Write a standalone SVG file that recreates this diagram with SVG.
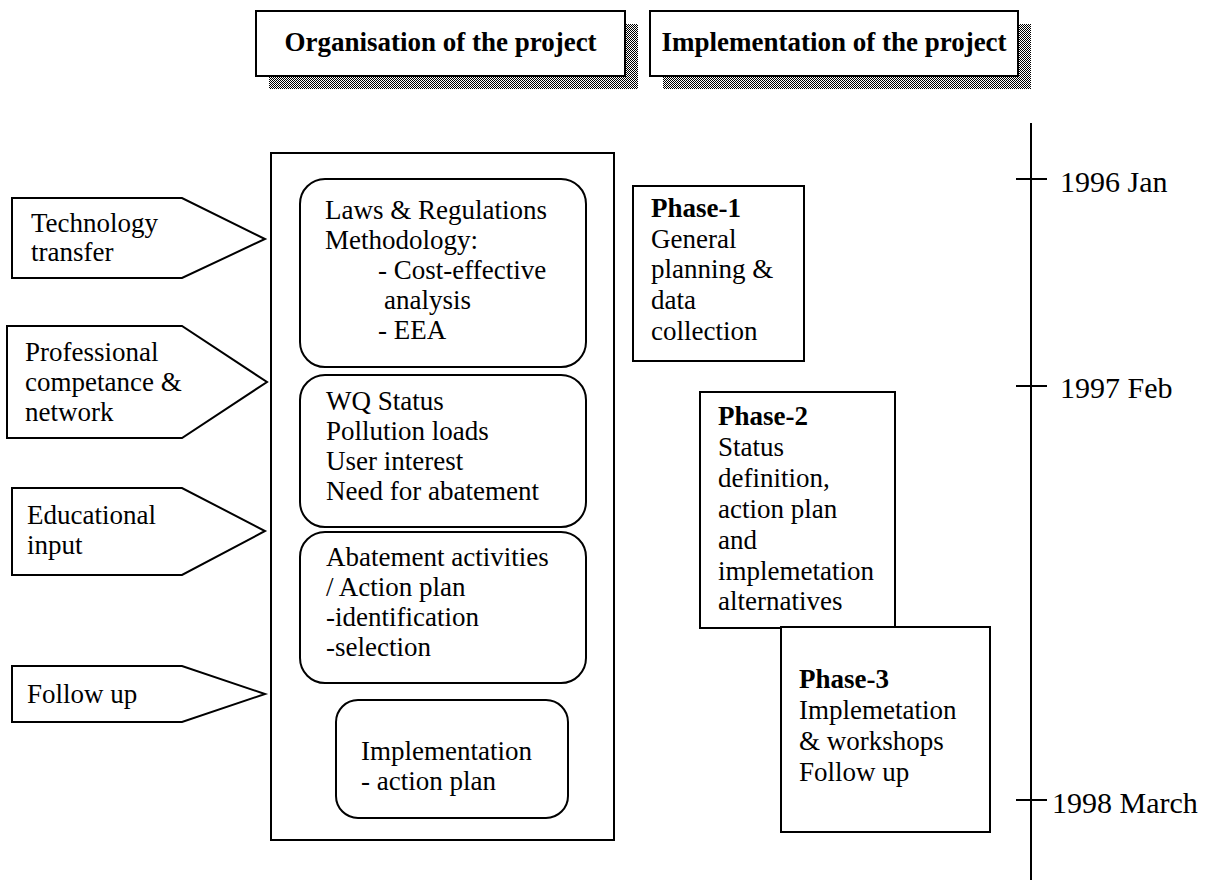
<svg xmlns="http://www.w3.org/2000/svg" width="1210" height="891" viewBox="0 0 1210 891">
  <defs>
    <pattern id="stipple" patternUnits="userSpaceOnUse" width="2" height="2">
      <rect x="0" y="0" width="1" height="1" fill="#000"/>
      <rect x="1" y="1" width="1" height="1" fill="#000"/>
    </pattern>
    <style>
      .t { font-family: "Liberation Serif", "Times New Roman", serif; font-size: 27px; fill: #000; }
      .b { font-weight: bold; }
      .hd { font-family: "Liberation Serif", "Times New Roman", serif; font-size: 27px; font-weight: bold; fill: #000; }
      .tl { font-family: "Liberation Serif", "Times New Roman", serif; font-size: 30px; fill: #000; }
      .box { fill: #fff; stroke: #000; stroke-width: 2; }
      .shadow { fill: url(#stipple); stroke: none; shape-rendering: crispEdges; }
      .line { stroke: #000; stroke-width: 2; fill: none; }
    </style>
  </defs>
  <rect x="0" y="0" width="1210" height="891" fill="#fff"/>

  <g id="header-organisation">
    <rect class="shadow" x="269" y="24" width="369" height="65"/>
    <rect class="box" x="256" y="11" width="369" height="65"/>
    <text class="hd" x="440.5" y="51" text-anchor="middle">Organisation of the project</text>
  </g>
  <g id="header-implementation">
    <rect class="shadow" x="663" y="24" width="368" height="65"/>
    <rect class="box" x="650" y="11" width="368" height="65"/>
    <text class="hd" x="834" y="51" text-anchor="middle">Implementation of the project</text>
  </g>

  <g id="input-technology">
    <polygon class="box" points="12,198 182,198 265,239 182,278 12,278"/>
    <text class="t" x="31" y="232">Technology</text>
    <text class="t" x="31" y="261">transfer</text>
  </g>
  <g id="input-professional">
    <polygon class="box" points="7,326 182,326 267,382 182,438 7,438"/>
    <text class="t" x="25" y="361">Professional</text>
    <text class="t" x="25" y="391">competance &amp;</text>
    <text class="t" x="25" y="421">network</text>
  </g>
  <g id="input-educational">
    <polygon class="box" points="12,488 182,488 265,531 182,575 12,575"/>
    <text class="t" x="27" y="524">Educational</text>
    <text class="t" x="27" y="554">input</text>
  </g>
  <g id="input-followup">
    <polygon class="box" points="12,666 182,666 265,694 182,722 12,722"/>
    <text class="t" x="27" y="703">Follow up</text>
  </g>

  <g id="organisation-frame">
    <rect class="box" x="271" y="153" width="343" height="687"/>
  </g>
  <g id="laws-methodology">
    <rect class="box" x="300" y="179" width="286" height="188" rx="25" ry="25"/>
    <text class="t" x="325" y="219">Laws &amp; Regulations</text>
    <text class="t" x="325" y="249">Methodology:</text>
    <text class="t" x="378" y="279">- Cost-effective</text>
    <text class="t" x="384" y="309">analysis</text>
    <text class="t" x="378" y="339">- EEA</text>
  </g>
  <g id="wq-status">
    <rect class="box" x="300" y="375" width="286" height="152" rx="25" ry="25"/>
    <text class="t" x="326" y="410">WQ Status</text>
    <text class="t" x="326" y="440">Pollution loads</text>
    <text class="t" x="326" y="470">User interest</text>
    <text class="t" x="326" y="500">Need for abatement</text>
  </g>
  <g id="abatement">
    <rect class="box" x="300" y="532" width="286" height="151" rx="25" ry="25"/>
    <text class="t" x="326" y="566">Abatement activities</text>
    <text class="t" x="326" y="596">/ Action plan</text>
    <text class="t" x="326" y="626">-identification</text>
    <text class="t" x="326" y="656">-selection</text>
  </g>
  <g id="implementation">
    <rect class="box" x="336" y="700" width="232" height="118" rx="22" ry="22"/>
    <text class="t" x="361" y="760">Implementation</text>
    <text class="t" x="361" y="790">- action plan</text>
  </g>

  <g id="phase-1">
    <rect class="box" x="633" y="186" width="171" height="175"/>
    <text class="t b" x="651" y="217">Phase-1</text>
    <text class="t" x="651" y="248">General</text>
    <text class="t" x="651" y="278">planning &amp;</text>
    <text class="t" x="651" y="309">data</text>
    <text class="t" x="651" y="340">collection</text>
  </g>
  <g id="phase-2">
    <rect class="box" x="700" y="392" width="195" height="236"/>
    <text class="t b" x="718" y="425">Phase-2</text>
    <text class="t" x="718" y="456">Status</text>
    <text class="t" x="718" y="487">definition,</text>
    <text class="t" x="718" y="518">action plan</text>
    <text class="t" x="718" y="549">and</text>
    <text class="t" x="718" y="580">implemetation</text>
    <text class="t" x="718" y="610">alternatives</text>
  </g>
  <g id="phase-3">
    <rect class="box" x="781" y="627" width="209" height="205"/>
    <text class="t b" x="799" y="688">Phase-3</text>
    <text class="t" x="799" y="719">Implemetation</text>
    <text class="t" x="799" y="750">&amp; workshops</text>
    <text class="t" x="799" y="781">Follow up</text>
  </g>

  <g id="connectors">
    <line class="line" x1="1031" y1="123" x2="1031" y2="880"/>
    <line class="line" x1="1016" y1="179" x2="1047" y2="179"/>
    <line class="line" x1="1016" y1="386" x2="1047" y2="386"/>
    <line class="line" x1="1016" y1="800" x2="1047" y2="800"/>
  </g>
  <g id="timeline-labels">
    <text class="tl" x="1060" y="192">1996 Jan</text>
    <text class="tl" x="1060" y="398">1997 Feb</text>
    <text class="tl" x="1052" y="813">1998 March</text>
  </g>
</svg>
